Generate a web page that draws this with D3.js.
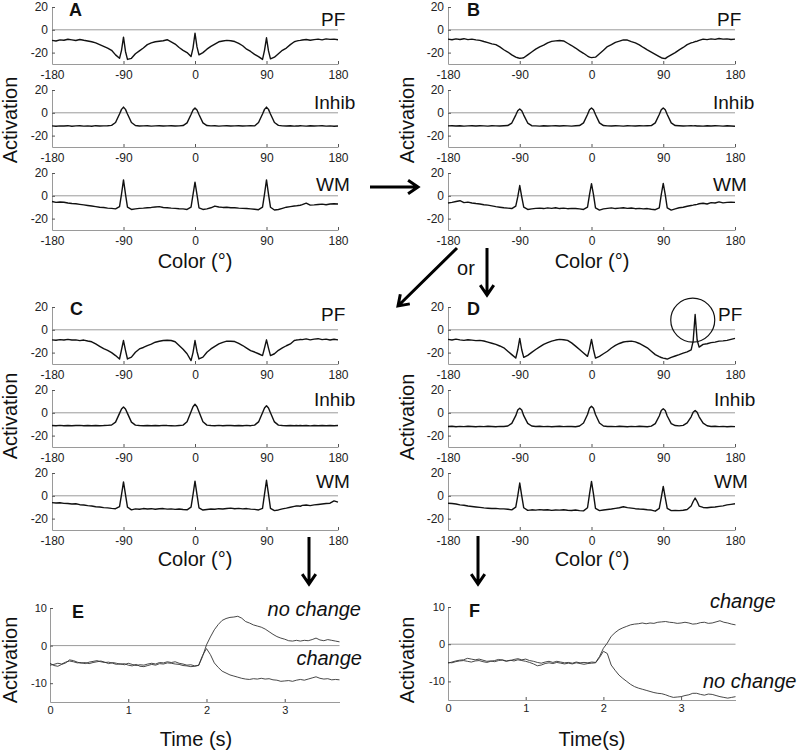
<!DOCTYPE html>
<html><head><meta charset="utf-8">
<script src="https://cdn.jsdelivr.net/npm/d3@7/dist/d3.min.js"></script>
<style>body{margin:0;background:#fff}</style>
</head><body>
<svg id="c" width="800" height="750" xmlns="http://www.w3.org/2000/svg"></svg>
<script>
// ---------- DATA ----------
const colorDeg = [
  -180,-175,-170,-165,-160,-155,-150,-145,-140,-135,-130,-125,-120,-115,-110,-105,-100,-95,
  -92.5,-90,-87.5,
  -85,-80,-75,-70,-65,-60,-55,-50,-45,-40,-35,-30,-25,-20,-15,-10,-5,
  -2.5,0,2.5,
  5,10,15,20,25,30,35,40,45,50,55,60,65,70,75,80,85,
  87.5,90,92.5,
  95,100,105,110,115,120,125,
  127.5,130,132.5,
  135,140,145,150,155,160,165,170,175,180];
const colorTicks = [-180,-90,0,90,180];
const activationTicks = [20,0,-20];
const layerNames = ["PF","Inhib","WM"];

const A_PF = [
  -9.3,-9.8,-8.8,-9.2,-8.3,-8.8,-9.4,-8.5,-9.2,-9.8,-10.5,-11.5,-13,-14.5,-16,-18,-22,-25,
  -18,-6.5,-19,
  -26,-25,-21,-18.5,-16,-13,-11.5,-10.5,-10,-9.6,-8.7,-10.5,-12.5,-15.5,-18,-20,-23.5,
  -16,-3,-15,
  -22,-20,-17,-14.5,-12.5,-10.5,-9.8,-9.3,-9.6,-10.3,-12,-14,-17,-19,-21.5,-23.5,-26,
  -18,-7,-18.5,
  -25.5,-24,-21,-18,-16,-13,-10.5,
  -10,-9.5,-9.3,
  -9,-8.5,-9.2,-8.6,-8.2,-8.8,-8,-8.4,-8.2,-8.7];
const A_Inhib = [
  -11.5,-11.8,-11.5,-11.6,-11.3,-11.8,-11.5,-11.4,-11.7,-11.5,-11.8,-11.3,-11.6,-11.5,-11.4,-11,-8.5,-1,
  3,5,3,
  -1,-8.5,-11.2,-11.6,-11.5,-11.3,-11.7,-11.5,-11.4,-11.6,-11.5,-11.3,-11.6,-11.5,-11.2,-8.8,-1.5,
  2.5,4.3,2.5,
  -1.5,-8.8,-11.2,-11.5,-11.4,-11.7,-11.5,-11.3,-11.6,-11.5,-11.4,-11.6,-11.5,-11.3,-11.5,-8.5,-1,
  3,5,3,
  -1,-8.5,-11,-11.5,-11.6,-11.4,-11.7,
  -11.5,-11.6,-11.4,
  -11.5,-11.7,-11.4,-11.6,-11.5,-11.3,-11.7,-11.5,-11.8,-11.6];
const A_WM = [
  -5,-5.8,-5.5,-5.7,-6.3,-6.8,-7,-7.5,-8,-8.5,-9,-9.5,-10,-10.3,-10.8,-11,-11.5,-9.5,
  1.5,14,1.5,
  -10,-12,-11.5,-11,-10.8,-10.5,-10.2,-9.8,-9.5,-10.3,-10.5,-10.8,-11,-11.3,-11.5,-12,-10,
  1,12,1,
  -10.5,-12,-11.5,-10.5,-9,-9.8,-10.2,-10,-10.5,-10.5,-10.8,-11,-11.2,-11.5,-11.8,-12.2,-10,
  1.5,14,1.5,
  -10,-12.5,-12,-11,-10,-9.5,-9,
  -8.8,-8.5,-8.3,
  -7.8,-6.5,-8.2,-8,-7.6,-7.3,-7.8,-7.2,-7,-7.2];

const B_PF = [
  -8.2,-8.7,-8,-8.5,-7.8,-8.6,-8.2,-8.8,-9.3,-10.3,-11.2,-12.3,-13,-15,-17.5,-19.5,-22,-24,
  -24.5,-25,-24.8,
  -24.5,-22,-19.5,-17,-15,-13.5,-11.5,-10.2,-9.7,-9.4,-9.8,-11.8,-13.8,-16,-18.5,-20.6,-23,
  -24,-24.4,-24.2,
  -24,-21,-18,-14.7,-13,-11,-10,-8.8,-9,-10.3,-11.5,-13.2,-15.5,-17.6,-19.5,-21.5,-23.5,
  -24.5,-25,-25.3,
  -24,-22,-20,-17.6,-15.5,-13,-11.5,
  -11,-10.3,-10,
  -9.3,-8.2,-8.6,-8,-8.4,-7.6,-8.2,-8,-8.5,-8.2];
const B_Inhib = [
  -11.5,-11.3,-11.6,-11.4,-11.7,-11.5,-11.3,-11.6,-11.4,-11.5,-11.7,-11.3,-11.5,-11.6,-11.4,-11.2,-9,-2,
  1.8,3.4,1.8,
  -2,-9,-11.3,-11.5,-11.7,-11.4,-11.6,-11.5,-11.3,-11.6,-11.4,-11.5,-11.7,-11.4,-11.2,-8.8,-1.5,
  2.6,4.3,2.6,
  -1.5,-8.8,-11.2,-11.5,-11.6,-11.4,-11.5,-11.7,-11.3,-11.5,-11.6,-11.4,-11.5,-11.3,-11.2,-8.8,-1.5,
  2.6,4.3,2.6,
  -1.5,-8.8,-11.2,-11.4,-11.6,-11.5,-11.3,
  -11.5,-11.4,-11.6,
  -11.5,-11.7,-11.3,-11.6,-11.4,-11.5,-11.7,-11.4,-11.6,-11.8];
const B_WM = [
  -6.3,-5.8,-5,-4.3,-6,-5.5,-6.3,-6.8,-7.2,-7.8,-8.2,-8.8,-9.5,-10,-10.5,-10.8,-11.2,-9,
  -1,9,-1,
  -10,-12,-11.5,-11,-10.8,-11.2,-10.6,-11,-10.5,-11.2,-10.8,-11.3,-11,-11.2,-11.5,-12,-10,
  1,10.6,1,
  -10.5,-12.5,-11.5,-11,-10.6,-11.2,-10.8,-10.5,-11,-10.7,-11.3,-11,-11.5,-11.2,-11.8,-12.2,-10.5,
  1,10.9,1,
  -10.5,-12.5,-11.5,-10.5,-10,-9.2,-8.5,
  -8.2,-7.8,-7.5,
  -7,-6.5,-7.2,-6,-6.3,-5.3,-6.2,-5.8,-5.6,-5.8];

const C_PF = [
  -8.8,-9.2,-8.6,-9,-8.4,-9,-8.8,-9.5,-9,-9.8,-10.5,-12.4,-14.5,-16.5,-18,-20,-22.6,-25.6,
  -17.5,-9.4,-18,
  -25.6,-24,-19.7,-16.8,-15.5,-13.8,-12.5,-10.9,-10,-9.4,-9.2,-9.4,-10.5,-13.8,-17,-21,-27,
  -20,-9.4,-19,
  -25.6,-24,-19.7,-16.8,-14.5,-12.4,-11,-10,-10,-10.3,-12,-13.8,-16,-18.2,-19.5,-21,-22.6,
  -16,-8.8,-16,
  -22.6,-21,-18,-15.9,-14,-12.4,-9.4,
  -9,-8.8,-8.5,
  -8.6,-8,-8.8,-8.2,-7.8,-8.6,-8.2,-8.9,-8.3,-8.8];
const C_Inhib = [
  -11.2,-11.4,-11,-11.3,-11.1,-11.4,-11.2,-11,-11.3,-11.2,-11.4,-11.1,-11.3,-11.2,-11,-10.7,-8.2,-0.5,
  3.3,5,3.3,
  -0.5,-8.2,-10.8,-11.2,-11.4,-11.1,-11.3,-11.2,-11.4,-11,-11.2,-11.3,-11.5,-11.1,-10.8,-7.8,1,
  5.3,7.5,5.3,
  1,-7.8,-10.8,-11.2,-11.3,-11,-11.4,-11.2,-11.1,-11.3,-11.2,-11.4,-11,-11.3,-10.8,-8,0,
  4.2,6.1,4.2,
  0,-8,-10.8,-11.2,-11.4,-11.1,-11.3,
  -11.2,-11.4,-11.1,
  -11.3,-11.2,-11.5,-11.1,-11.3,-11.2,-11.4,-11.1,-11.3,-11.2];
const C_WM = [
  -6,-6.3,-6.1,-6.6,-6.8,-7.2,-7,-7.8,-8.1,-8.6,-9,-9.6,-9.8,-10.4,-10.6,-11,-11.3,-9.5,
  1,12.2,1,
  -10,-12.3,-11.5,-11.8,-11.2,-11.6,-11.3,-11.8,-11.4,-11.2,-11.7,-11.5,-11.9,-11.6,-12,-12.3,-10,
  1,12.8,1,
  -10.5,-12.5,-12,-11.6,-11.8,-11.3,-11.6,-11.1,-10.8,-11.4,-11,-11.5,-11.2,-11.7,-11.9,-12.4,-11,
  1.5,13.6,1.5,
  -11,-13,-12.4,-11.5,-10.8,-10,-9.3,
  -9,-8.8,-9.2,
  -8.4,-8.1,-8.6,-8,-7.6,-7.2,-6.8,-6.5,-4.5,-5.5];

const D_PF = [
  -8.4,-8.9,-8.2,-8.8,-9.3,-8.7,-9.1,-9.5,-9.3,-9.8,-10.8,-11.8,-12.8,-14.2,-15.8,-18.8,-21.8,-24.8,
  -17.5,-7.5,-17.5,
  -24.2,-22.4,-19.8,-17.3,-15,-12.8,-11.3,-9.9,-9,-8.4,-8.7,-9.3,-11.5,-14.3,-17.3,-20.3,-23.3,
  -17,-8.4,-17.5,
  -24.8,-23.3,-21,-18.8,-16,-13.7,-12,-10.7,-10.2,-9.9,-10.6,-12,-13.8,-15.8,-18.8,-21.8,-23.5,
  -24.3,-24.8,-25.2,
  -25.7,-24.2,-23,-21.8,-20.5,-19.4,-17.6,
  -10,13.4,-9,
  -15.2,-12.8,-12.2,-11.3,-10.8,-9.9,-9.7,-9.3,-8.4,-7.5];
const D_Inhib = [
  -12,-11.8,-12.2,-11.9,-12.1,-11.8,-12,-12.2,-11.9,-12.1,-11.8,-12,-12.2,-11.9,-12,-11.6,-9.3,-2.5,
  2.4,4,2.4,
  -2.5,-9.3,-11.6,-12,-11.8,-12.1,-11.9,-12.2,-12,-11.8,-12.1,-11.9,-12,-12.2,-11.6,-9,-1.5,
  4,5.8,4,
  -1.5,-9,-11.6,-12,-11.9,-12.1,-11.8,-12,-12.2,-11.9,-12.1,-11.8,-12,-12.2,-11.7,-9.5,-2.8,
  2,3.5,2,
  -2.8,-9.5,-11.2,-11.5,-11,-8.8,-3.5,
  0.5,2,0.5,
  -3.5,-9,-11.4,-12,-11.8,-12.1,-11.9,-12.2,-12,-12.1];
const D_WM = [
  -6.5,-6.8,-7.2,-8,-8.3,-9,-9.4,-9.8,-10.2,-10.6,-10.9,-11.2,-11,-11.5,-11.5,-11.8,-12.3,-10,
  0,11.2,0,
  -10.5,-12.8,-12.3,-12.6,-12.1,-12.5,-12.2,-12.8,-12.4,-12.6,-12.2,-12.7,-12.9,-12.5,-13,-13.2,-10.5,
  1.5,12.6,1.5,
  -11,-13,-12.4,-12,-11.6,-11,-10.5,-9.6,-10.4,-10.8,-11.3,-11.6,-11.8,-12.2,-12.5,-13.5,-11,
  -1.5,8.2,-1.5,
  -11,-13,-12.8,-13,-12.7,-12,-9,
  -5,-2,-5,
  -9,-10.2,-10.5,-10,-9.8,-9.3,-8.8,-8,-7.5,-7];

const timeSec = [
  0,0.05,0.1,0.15,0.2,0.25,0.3,0.35,0.4,0.45,
  0.5,0.55,0.6,0.65,0.7,0.75,0.8,0.85,0.9,0.95,
  1,1.05,1.1,1.15,1.2,1.25,1.3,1.35,1.4,1.45,
  1.5,1.55,1.6,1.65,1.7,1.75,1.8,1.85,1.9,1.95,
  2,2.05,2.1,2.15,2.2,2.25,2.3,2.35,2.4,2.45,
  2.5,2.55,2.6,2.65,2.7,2.75,2.8,2.85,2.9,2.95,
  3,3.05,3.1,3.15,3.2,3.25,3.3,3.35,3.4,3.45,
  3.5,3.55,3.6,3.65,3.7];
const timeTicks = [0,1,2,3];
const timeActTicks = [10,0,-10];

const E_noChange = [
  -5.2,-5.0,-4.7,-4.9,-4.4,-4.1,-4.3,-4.6,-4.5,-4.8,
  -4.4,-4.2,-4.0,-4.3,-4.5,-4.4,-4.7,-5.0,-4.8,-5.1,
  -4.7,-5.0,-5.3,-5.1,-5.2,-4.9,-4.7,-4.9,-4.5,-4.6,
  -4.3,-4.5,-4.3,-4.7,-4.9,-5.2,-5.1,-5.4,-5.3,-2.9,
  0.2,2.3,4.2,5.6,6.7,7.2,7.5,7.6,7.8,7.3,
  6.4,6.0,5.5,5.2,4.9,4.4,3.7,3.0,2.4,2.0,
  1.7,1.3,1.2,1.4,1.2,1.4,1.3,1.6,2.0,1.5,
  1.3,1.6,1.4,1.2,1.0];
const E_change = [
  -4.7,-5.3,-5.5,-5.0,-4.6,-3.8,-4.0,-4.4,-4.7,-4.5,
  -4.8,-4.5,-4.3,-4.1,-4.4,-4.8,-4.5,-4.7,-5.0,-4.8,
  -5.2,-5.4,-5.0,-5.5,-5.6,-5.3,-5.0,-5.2,-4.8,-4.9,
  -4.6,-4.7,-4.9,-5.0,-5.3,-5.4,-5.6,-5.5,-5.2,-2.6,
  -0.8,-2.4,-4.6,-5.8,-6.8,-7.3,-7.8,-8.1,-8.4,-8.7,
  -8.9,-9.0,-8.8,-8.9,-8.7,-8.9,-8.8,-9.1,-9.2,-9.5,
  -9.4,-9.3,-9.5,-9.2,-9.0,-9.2,-8.9,-8.6,-8.3,-8.7,
  -8.9,-8.8,-9.1,-9.0,-9.1];
const F_change = [
  -5.1,-4.8,-4.5,-4.3,-4.2,-3.8,-4.0,-4.2,-4.0,-4.3,
  -4.6,-4.5,-4.7,-4.4,-4.2,-4.5,-4.4,-4.1,-3.9,-4.2,
  -4.0,-4.4,-4.6,-4.9,-5.1,-4.8,-4.6,-4.9,-4.6,-4.8,
  -5.0,-4.9,-5.1,-4.8,-5.0,-4.9,-5.0,-4.8,-4.9,-3.3,
  -1.1,0.3,2.1,3.1,3.9,4.4,4.8,5.2,5.4,5.5,
  5.7,5.5,5.7,5.6,5.9,6.0,6.1,5.9,5.8,5.6,
  5.7,5.9,5.7,5.4,5.5,5.8,5.9,5.6,5.7,6.0,
  6.3,5.9,5.7,5.4,5.2];
const F_noChange = [
  -4.9,-5.0,-4.7,-4.5,-4.4,-4.6,-4.8,-4.5,-4.4,-4.7,
  -4.9,-4.6,-4.4,-4.1,-4.3,-4.6,-4.3,-4.5,-4.2,-4.4,
  -4.6,-4.9,-5.3,-5.8,-5.6,-5.2,-5.0,-5.2,-4.9,-5.1,
  -5.3,-5.1,-5.3,-5.0,-5.2,-5.4,-5.2,-5.1,-5.0,-3.6,
  -1.9,-2.5,-5.6,-7.0,-8.3,-9.2,-10.0,-10.8,-11.4,-11.8,
  -12.1,-12.4,-12.7,-13.0,-13.2,-13.3,-13.6,-14.0,-14.3,-14.2,
  -14.1,-13.8,-13.6,-13.2,-13.2,-13.5,-13.7,-13.4,-13.5,-13.8,
  -14.1,-14.3,-14.5,-14.3,-14.1];

// ---------- DRAWING ----------
const svg = d3.select('#c');
const FONT = "'Liberation Sans', Arial, Helvetica, sans-serif";
const tf = d => String(d);

function styleAxis(g, fs) {
  g.attr('font-family', FONT).attr('font-size', fs);
  g.select('.domain').attr('stroke', '#9a9a9a').attr('stroke-width', 1);
  g.selectAll('.tick line').attr('stroke', '#555');
  g.selectAll('.tick text').attr('fill', '#222');
}

function text(x, y, s, opts = {}) {
  return svg.append('text').attr('x', x).attr('y', y).text(s)
    .attr('font-family', FONT).attr('font-size', opts.size || 19)
    .attr('font-weight', opts.weight || 'normal')
    .attr('font-style', opts.style || 'normal')
    .attr('text-anchor', opts.anchor || 'start')
    .attr('fill', '#111');
}

function colorPanel(x0, x1, top, values, name, nameX, nameBase) {
  const x = d3.scaleLinear().domain([-180, 180]).range([x0, x1]);
  const y = d3.scaleLinear().domain([-30, 20]).range([top + 57, top]);
  svg.append('line').attr('x1', x0).attr('x2', x1)
    .attr('y1', y(0)).attr('y2', y(0)).attr('stroke', '#9a9a9a');
  const gx = svg.append('g').attr('transform', `translate(0,${y(-30)})`)
    .call(d3.axisBottom(x).tickValues(colorTicks).tickFormat(tf)
      .tickSizeInner(-3).tickSizeOuter(0).tickPadding(6));
  styleAxis(gx, 12);
  const gy = svg.append('g').attr('transform', `translate(${x0},0)`)
    .call(d3.axisLeft(y).tickValues(activationTicks).tickFormat(tf)
      .tickSizeInner(-3).tickSizeOuter(0).tickPadding(4));
  styleAxis(gy, 12);
  const line = d3.line().x((d, i) => x(colorDeg[i])).y(d => y(d));
  svg.append('path').datum(values).attr('d', line)
    .attr('fill', 'none').attr('stroke', '#111').attr('stroke-width', 1.4)
    .attr('stroke-linejoin', 'round');
  text(nameX, nameBase, name, {size: 19});
  return {x, y};
}

function timePanel(x0, x1, top, bottom, series) {
  const x = d3.scaleLinear().domain([0, 3.7]).range([x0, x1]);
  const y = d3.scaleLinear().domain([-15, 10]).range([bottom, top]);
  svg.append('line').attr('x1', x0).attr('x2', x1)
    .attr('y1', y(0)).attr('y2', y(0)).attr('stroke', '#9a9a9a');
  const gx = svg.append('g').attr('transform', `translate(0,${y(-15)})`)
    .call(d3.axisBottom(x).tickValues(timeTicks).tickFormat(tf)
      .tickSizeInner(-3).tickSizeOuter(0).tickPadding(4));
  styleAxis(gx, 11);
  const gy = svg.append('g').attr('transform', `translate(${x0},0)`)
    .call(d3.axisLeft(y).tickValues(timeActTicks).tickFormat(tf)
      .tickSizeInner(-3).tickSizeOuter(0).tickPadding(3));
  styleAxis(gy, 11);
  const line = d3.line().x((d, i) => x(timeSec[i])).y(d => y(d));
  series.forEach(s => {
    svg.append('path').datum(s).attr('d', line)
      .attr('fill', 'none').attr('stroke', '#333').attr('stroke-width', 0.9);
  });
}

function ylabel(x, y, s) {
  svg.append('text').attr('transform', `translate(${x},${y}) rotate(-90)`)
    .attr('text-anchor', 'middle').attr('font-family', FONT)
    .attr('font-size', 20).attr('fill', '#111').text(s);
}

function arrow(x1, y1, x2, y2) {
  const a = Math.atan2(y2 - y1, x2 - x1), L = 12, h = 0.6;
  const p = d3.path();
  p.moveTo(x1, y1); p.lineTo(x2, y2);
  p.moveTo(x2 - L * Math.cos(a - h), y2 - L * Math.sin(a - h));
  p.lineTo(x2, y2);
  p.lineTo(x2 - L * Math.cos(a + h), y2 - L * Math.sin(a + h));
  svg.append('path').attr('d', p.toString()).attr('fill', 'none')
    .attr('stroke', '#000').attr('stroke-width', 3).attr('stroke-linejoin', 'miter');
}

// column / row layout
const L = [52, 338], R = [448, 735];
const rowsTop = [7, 90, 173], rowsBottom = [307, 390, 473];
const panels = [
  {col: L, tops: rowsTop, data: [A_PF, A_Inhib, A_WM], nx: [321, 314, 316], nb: [26, 109, 191]},
  {col: R, tops: rowsTop, data: [B_PF, B_Inhib, B_WM], nx: [717, 713, 713], nb: [26, 109, 191]},
  {col: L, tops: rowsBottom, data: [C_PF, C_Inhib, C_WM], nx: [321, 314, 316], nb: [321, 406, 488]},
  {col: R, tops: rowsBottom, data: [D_PF, D_Inhib, D_WM], nx: [718, 714, 714], nb: [321, 406, 488]}
];
let dPF = null;
panels.forEach((p, pi) => {
  p.data.forEach((vals, r) => {
    const sc = colorPanel(p.col[0], p.col[1], p.tops[r], vals, layerNames[r], p.nx[r], p.nb[r]);
    if (pi === 3 && r === 0) dPF = sc;
  });
});

// circle highlighting the new PF peak in D
svg.append('circle').attr('cx', dPF.x(127)).attr('cy', dPF.y(8.5)).attr('r', 22)
  .attr('fill', 'none').attr('stroke', '#111').attr('stroke-width', 1.2);

timePanel(50, 339.5, 608, 702, [E_noChange, E_change]);
timePanel(448, 735.5, 607, 700, [F_change, F_noChange]);

// panel letters
[['A', 69, 16], ['B', 467, 16], ['C', 70, 315], ['D', 467, 315], ['E', 72, 618], ['F', 469, 617]]
  .forEach(([s, x, y]) => text(x, y, s, {size: 18, weight: 'bold'}));

// axis titles
ylabel(17, 120, 'Activation'); ylabel(414, 120, 'Activation');
ylabel(17, 416, 'Activation'); ylabel(414, 417, 'Activation');
ylabel(17, 660, 'Activation'); ylabel(414, 660, 'Activation');
text(195, 268, 'Color (°)', {size: 20, anchor: 'middle'});
text(592, 268, 'Color (°)', {size: 20, anchor: 'middle'});
text(195, 566, 'Color (°)', {size: 20, anchor: 'middle'});
text(592, 566, 'Color (°)', {size: 20, anchor: 'middle'});
text(196, 746, 'Time (s)', {size: 20, anchor: 'middle'});
text(592, 746, 'Time(s)', {size: 20, anchor: 'middle'});

// trace labels
text(361, 616, 'no change', {size: 20, style: 'italic', anchor: 'end'});
text(362, 665, 'change', {size: 20, style: 'italic', anchor: 'end'});
text(710, 608, 'change', {size: 20, style: 'italic'});
text(703, 688, 'no change', {size: 20, style: 'italic'});

// arrows
arrow(370, 187, 418, 187);
arrow(457, 248, 398, 306);
arrow(487, 248, 487, 295);
arrow(309, 537, 309, 584);
arrow(478, 536, 478, 584);
text(466, 275, 'or', {size: 20, anchor: 'middle'});
</script>
</body></html>
